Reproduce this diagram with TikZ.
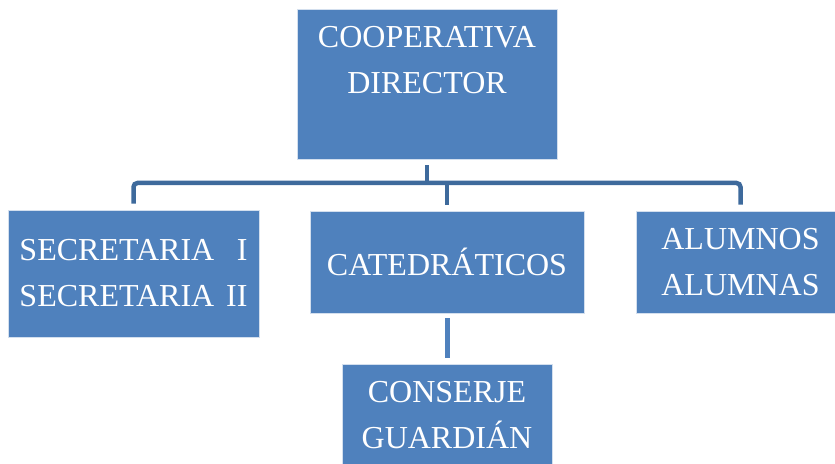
\documentclass[tikz,border=0pt]{standalone}
\usepackage{fontspec}
\setmainfont{Liberation Serif}
\usetikzlibrary{positioning}

\definecolor{boxblue}{HTML}{4F81BD}
\definecolor{linkblue}{HTML}{3E6A9C}

\begin{document}
\begin{tikzpicture}[x=1pt, y=1pt,
    orgbox/.style={fill=boxblue, draw=white!75!boxblue, line width=0.8pt,
        text=white, align=center, inner sep=0pt,
        font=\fontsize{32}{46}\selectfont},
    orgtext/.style={text=white, align=center, inner sep=0pt,
        font=\fontsize{32}{46}\selectfont},
    link/.style={linkblue, line width=4.5pt},
    sublink/.style={boxblue, line width=5pt}]
    % 画布大小
    \clip (0,0) rectangle (835,463);

    % 顶层:合作社 / 主任
    \node[orgbox, minimum width=260, minimum height=150] (dir) at (427,379) {};
    \node[orgtext, anchor=north] (dirtext) at ([yshift=-18pt]dir.north)
        {COOPERATIVA\\DIRECTOR};

    % 第二层
    \node[orgbox, minimum width=251, minimum height=127] (sec) at (133.5,189.5)
        {\makebox[228pt][s]{SECRETARIA I}\\\makebox[228pt][s]{SECRETARIA II}};
    \node[orgbox, minimum width=274, minimum height=102] (cat) at (447,201)
        {CATEDRÁTICOS};
    \node[orgbox, minimum width=209, minimum height=102] (alu) at (740.5,201)
        {ALUMNOS\\ALUMNAS};

    % 第三层
    \node[orgbox, minimum width=210, minimum height=102] (con) at (447,48)
        {CONSERJE\\GUARDIÁN};

    % 连接线
    \coordinate (hub) at (427,280);
    \draw[link] ([yshift=-6pt]dir.south) -- (dir.south |- hub);
    \draw[link, rounded corners=4pt] ([yshift=6pt]sec.north) |- (hub)
        -| ([yshift=6pt]alu.north);
    \draw[link] (hub -| cat.north) -- ([yshift=6pt]cat.north);
    \draw[sublink] ([yshift=-5pt]cat.south) -- ([yshift=6pt]con.north);
\end{tikzpicture}
\end{document}
